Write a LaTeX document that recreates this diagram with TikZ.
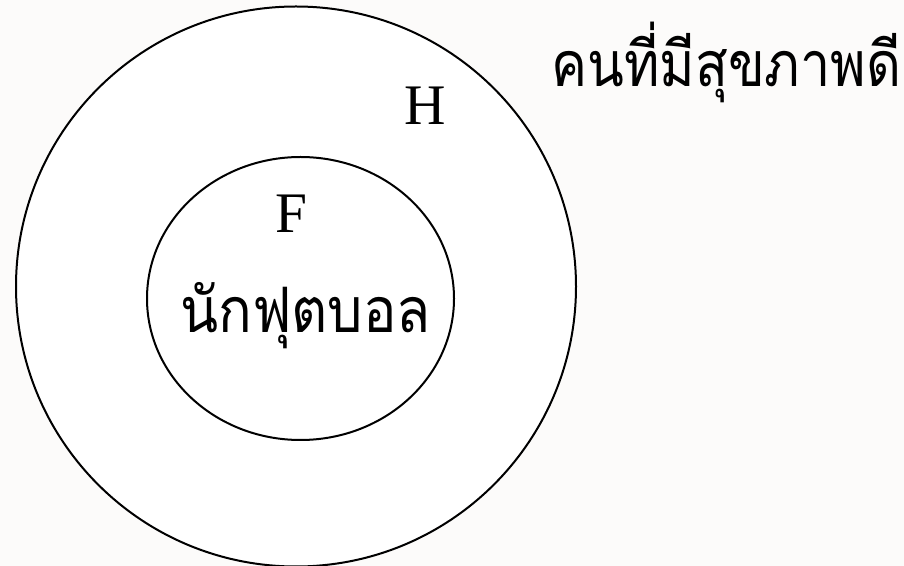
\documentclass[tikz,border=0pt]{standalone}
\usepackage{fontspec}
\setmainfont{Liberation Serif}
\newfontfamily\thaifont[Script=Thai,FakeStretch=0.89]{Loma}
\newfontfamily\thaifontnarrow[Script=Thai,FakeStretch=0.86]{Loma}
\definecolor{paper}{RGB}{252,251,250}
\tikzset{
  setline/.style={line width=1.5pt, fill=white},
  setname/.style={anchor=base west, inner sep=0pt, font=\fontsize{43}{48}\selectfont},
  thailabel/.style={anchor=base west, inner sep=0pt, font=\thaifont\fontsize{47}{52}\selectfont},
  thaititle/.style={anchor=base west, inner sep=0pt, font=\thaifontnarrow\fontsize{47}{52}\selectfont}
}
\begin{document}
\begin{tikzpicture}[x=0.75pt,y=0.75pt,yscale=-1,xscale=1]
\fill [paper] (0,0) rectangle (904,566);
\useasboundingbox (0,0) rectangle (904,566);

%Shape: Ellipse [id:healthy]
\draw [setline] (296,286.5) ellipse (280 and 280);
%Shape: Ellipse [id:football]
\draw [setline] (300.5,298.5) ellipse (153.5 and 141.5);

% Text Node
\node [thaititle] (healthytext) at (551,87) {คนที่มีสุขภาพดี};
% Text Node
\node [setname] (setH) at (404,125) {H};
% Text Node
\node [setname] (setF) at (275,233) {F};
% Text Node
\node [thailabel] (footballtext) at (180,333) {นักฟุตบอล};

\end{tikzpicture}
\end{document}
